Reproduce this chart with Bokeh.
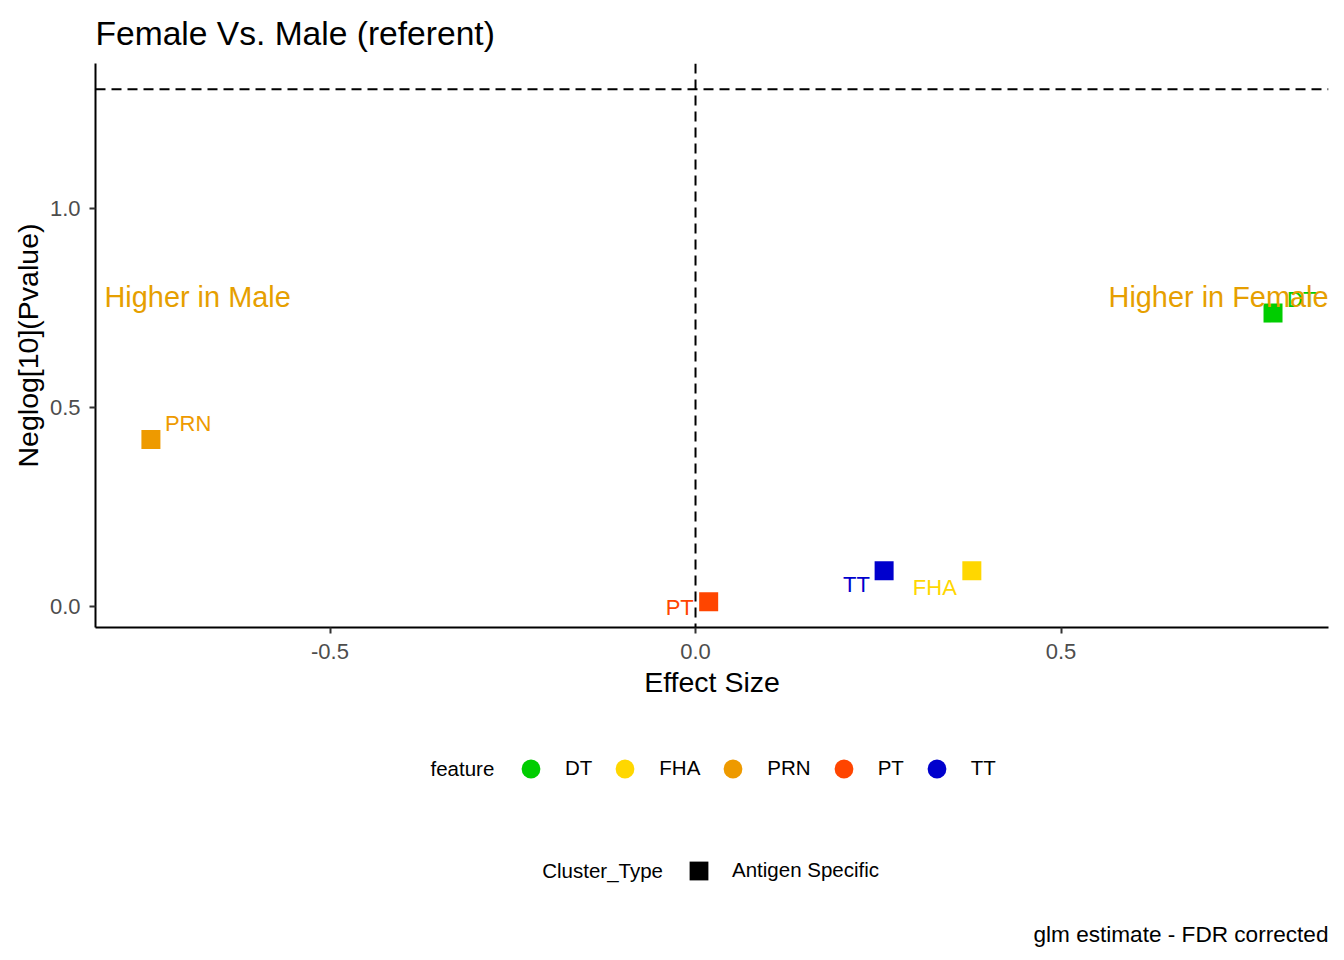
from bokeh.plotting import figure
from bokeh.layouts import column
from bokeh.models import (Range1d, Span, Legend, LegendItem, Label, FixedTicker,
                          NumeralTickFormatter, ColumnDataSource)
from bokeh.core.properties import value
from bokeh.embed import file_html
from bokeh.resources import INLINE

# ---- data ----
features = ["DT", "FHA", "PRN", "PT", "TT"]
colors = ["#00CD00", "#FFD700", "#EE9A00", "#FF4500", "#0000CD"]
effect_size = [0.790, 0.378, -0.745, 0.018, 0.258]
neglog_p = [0.738, 0.090, 0.420, 0.012, 0.090]
# repelled label offsets (screen px, relative to point)
label_dx = [14, -59, 14, -43, -41]
label_dy = [-14, 17, -16, 6, 14]
x_ticks = [-0.5, 0.0, 0.5]
y_ticks = [0.0, 0.5, 1.0]
sig_threshold = 1.30103  # -log10(0.05)
annot_text = ["Higher in Male", "Higher in Female"]
annot_x = [-0.8085, 0.8659]
annot_y = [0.778, 0.778]
cluster_types = ["Antigen Specific"]
cluster_colors = ["black"]

FONT = "Liberation Sans"
DASH = "10 6"

# ================= main plot =================
p = figure(width=1344, height=710, output_backend="svg", toolbar_location=None,
           x_range=Range1d(-0.8208, 0.8659), y_range=Range1d(-0.0527, 1.3655),
           min_border_left=95, min_border_right=16, min_border_top=63,
           min_border_bottom=83)
p.background_fill_color = "white"
p.border_fill_color = "white"
p.outline_line_color = None
p.xgrid.grid_line_color = None
p.ygrid.grid_line_color = None

p.title.text = "Female Vs. Male (referent)"
p.title.text_font = FONT
p.title.text_font_size = "33.6px"
p.title.text_font_style = "normal"
p.title.text_color = "black"
p.title.align = "left"
p.title.standoff = 23

for ax in (p.xaxis, p.yaxis):
    ax.axis_line_width = 2
    ax.axis_line_color = "black"
    ax.major_tick_line_color = "#333333"
    ax.major_tick_line_width = 2
    ax.major_tick_out = 6
    ax.major_tick_in = 0
    ax.minor_tick_line_color = None
    ax.major_label_text_font = FONT
    ax.major_label_text_font_size = "22px"
    ax.major_label_text_color = "#4D4D4D"
    ax.axis_label_text_font = FONT
    ax.axis_label_text_font_size = "28.5px"
    ax.axis_label_text_font_style = "normal"
    ax.axis_label_text_color = "black"
    ax.formatter = NumeralTickFormatter(format="0.0")

p.xaxis.ticker = FixedTicker(ticks=x_ticks)
p.yaxis.ticker = FixedTicker(ticks=y_ticks)
p.xaxis.axis_label = "Effect Size"
p.yaxis.axis_label = "Neglog[10](Pvalue)"
p.xaxis.major_label_standoff = 10
p.xaxis.axis_label_standoff = 4
p.yaxis.major_label_standoff = 9
p.yaxis.axis_label_standoff = 3

p.add_layout(Span(location=0, dimension="height", line_color="black",
                  line_width=2, line_dash=DASH))
p.add_layout(Span(location=sig_threshold, dimension="width", line_color="black",
                  line_width=2, line_dash=DASH))

src = ColumnDataSource(dict(x=effect_size, y=neglog_p, feature=features,
                            color=colors, dx=label_dx, dy=label_dy))
p.scatter(x="x", y="y", source=src, marker="square", size=19,
          fill_color="color", line_color=None)
p.text(x="x", y="y", text="feature", source=src, x_offset="dx", y_offset="dy",
       text_color="color", text_font=value(FONT), text_font_size="22px",
       text_align="left", text_baseline="alphabetic")

annot_src = ColumnDataSource(dict(x=annot_x, y=annot_y, t=annot_text,
                                  align=["left", "right"]))
p.text(x="x", y="y", text="t", source=annot_src, text_align="align",
       text_color="#E69F00", text_font=value(FONT), text_font_size="28.9px",
       text_baseline="alphabetic")

# ================= legend / caption strip =================
# frame of this strip is aligned with the main frame (page x 95..1328)
q = figure(width=1344, height=250, output_backend="svg", toolbar_location=None,
           x_range=Range1d(95, 1328), y_range=Range1d(0, 250),
           x_axis_location=None, y_axis_location=None,
           min_border_left=0, min_border_right=0, min_border_top=0,
           min_border_bottom=0)
q.title.visible = False
q.outline_line_color = None
q.xgrid.grid_line_color = None
q.ygrid.grid_line_color = None
q.background_fill_color = "white"
q.border_fill_color = "white"

nan = float("nan")


def legend_items(labels, cols, marker):
    items = []
    for lab, c in zip(labels, cols):
        r = q.scatter(x=[nan], y=[nan], marker=marker, size=19,
                      fill_color=c, line_color=None)
        items.append(LegendItem(label=lab, renderers=[r]))
    return items


common = dict(orientation="horizontal", glyph_width=47, glyph_height=47,
              spacing=9, padding=0, margin=0,
              border_line_color=None, background_fill_alpha=0,
              label_text_font=FONT, label_text_font_size="20.5px",
              label_text_color="black", click_policy="none")

leg1 = Legend(items=legend_items(features, colors, "circle"),
              location=(412, 168.5), label_standoff=11, **common)
leg2 = Legend(items=legend_items(cluster_types, cluster_colors, "square"),
              location=(580, 66.5), label_standoff=10, **common)
q.add_layout(leg1, "center")
q.add_layout(leg2, "center")

for txt, xs, ys in (("feature", 430, 192), ("Cluster_Type", 541.7, 90)):
    q.add_layout(Label(x=xs, y=ys, text=txt, text_font=FONT,
                       text_font_size="20.5px", text_baseline="middle",
                       text_color="black"))

q.add_layout(Label(x=1328, y=26, text="glm estimate - FDR corrected",
                   text_align="right", text_font=FONT, text_font_size="22.6px",
                   text_baseline="alphabetic", text_color="black"))

layout = column(p, q, spacing=0)
open("out.html", "w").write(file_html(layout, INLINE))
